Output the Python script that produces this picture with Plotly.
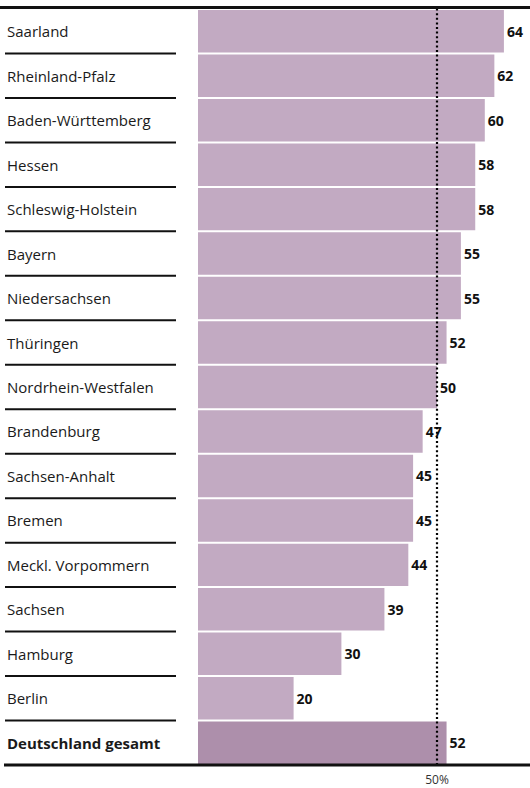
import plotly.graph_objects as go

categories = ["Saarland", "Rheinland-Pfalz", "Baden-Württemberg", "Hessen", "Schleswig-Holstein",
              "Bayern", "Niedersachsen", "Thüringen", "Nordrhein-Westfalen", "Brandenburg",
              "Sachsen-Anhalt", "Bremen", "Meckl. Vorpommern", "Sachsen", "Hamburg", "Berlin",
              "Deutschland gesamt"]
values = [64, 62, 60, 58, 58, 55, 55, 52, 50, 47, 45, 45, 44, 39, 30, 20, 52]
reference_value = 50
reference_label = "50%"

W, H = 530, 788
L, R, T, B = 198, 0, 9, 23
PW = W - L - R
PX_PER_UNIT = 4.78
xmax = PW / PX_PER_UNIT

colors = ["#c2aac2"] * (len(categories) - 1) + ["#ad8fab"]
font_family = "Open Sans, Noto Sans, sans-serif"

fig = go.Figure()
fig.add_trace(go.Bar(
    y=categories, x=values, orientation="h",
    marker=dict(color=colors, line=dict(width=0)),
    text=[str(v) for v in values], textposition="outside",
    textfont=dict(family=font_family, size=14, color="#111111", weight="bold"),
    cliponaxis=False, hoverinfo="skip",
))
fig.add_trace(go.Scatter(
    x=[reference_value, reference_value], y=[0, 1], yaxis="y2", mode="lines",
    line=dict(color="#000000", width=2.2, dash="2px,2.6px"), hoverinfo="skip",
    cliponaxis=False,
))

def px_to_paper(px):
    return (px - L) / PW

annotations = []
for i, c in enumerate(categories):
    bold = i == len(categories) - 1
    annotations.append(dict(
        x=px_to_paper(5), y=c, xref="paper", yref="y", xanchor="left", yanchor="middle",
        text=f"<b>{c}</b>" if bold else c, showarrow=False,
        font=dict(family=font_family, size=15, color="#1a1a1a"),
    ))

shapes = []
for i in range(len(categories) - 1):
    shapes.append(dict(type="line", xref="paper", yref="y",
                       x0=px_to_paper(5), x1=px_to_paper(176), y0=i + 0.5, y1=i + 0.5,
                       line=dict(color="#111111", width=2)))
shapes.append(dict(type="line", xref="paper", yref="paper", x0=px_to_paper(0), x1=1,
                   y0=1 + 1.5 / (H - T - B), y1=1 + 1.5 / (H - T - B),
                   line=dict(color="#111111", width=3)))
shapes.append(dict(type="line", xref="paper", yref="paper", x0=px_to_paper(4), x1=1,
                   y0=0, y1=0, line=dict(color="#111111", width=3)))

fig.update_layout(
    width=W, height=H, margin=dict(l=L, r=R, t=T, b=B),
    paper_bgcolor="white", plot_bgcolor="white",
    bargap=0.045, showlegend=False,
    xaxis=dict(range=[0, xmax], showgrid=False, zeroline=False, showline=False,
               tickvals=[reference_value], ticktext=[reference_label], ticks="",
               tickfont=dict(family=font_family, size=12, color="#333333"),
               ticklabelstandoff=6, fixedrange=True),
    yaxis=dict(autorange="reversed", showticklabels=False, showgrid=False,
               zeroline=False, showline=False, ticks="", fixedrange=True),
    yaxis2=dict(overlaying="y", range=[0, 1], visible=False, fixedrange=True),
    annotations=annotations, shapes=shapes,
)

fig.write_html("out.html", config={"displayModeBar": False},
               post_script="document.body.style.margin='0px';document.body.style.padding='0px';")
